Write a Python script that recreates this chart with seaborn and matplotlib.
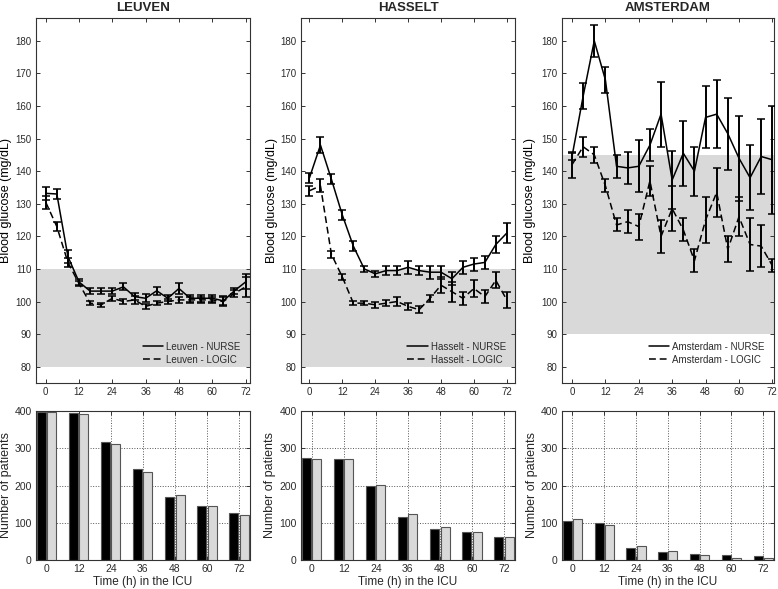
import numpy as np
import pandas as pd
import matplotlib
matplotlib.use("Agg")
import matplotlib.pyplot as plt
import seaborn as sns

# ---------------- data ----------------
site_titles = ["LEUVEN", "HASSELT", "AMSTERDAM"]
site_names = ["Leuven", "Hasselt", "Amsterdam"]
hours = [0, 4, 8, 12, 16, 20, 24, 28, 32, 36, 40, 44, 48, 52, 56, 60, 64, 68, 72]

leuven_nurse = [133.2, 133, 113.8, 106, 103.2, 103.2, 103.2, 104.5, 101.5, 101, 103.3, 101, 104, 101, 101, 101, 100.2, 103.3, 106]
leuven_nurse_err = [2, 1.5, 2, 1, 0.8, 0.8, 0.8, 1.1, 1.1, 1.2, 1.2, 0.9, 1.7, 1.1, 1.1, 1, 1.4, 1, 2.3]
leuven_logic = [130.5, 123, 112, 105.5, 99.5, 99, 101, 100, 100.5, 98.5, 99.5, 100, 100.5, 100.5, 100.5, 100.5, 100, 102.5, 104.5]
leuven_logic_err = [2, 1.5, 1.5, 0.8, 0.7, 0.7, 0.7, 0.8, 1.2, 0.8, 0.7, 0.7, 0.8, 1, 1, 1, 1.3, 1, 3]

hasselt_nurse = [138, 148, 137.5, 126.5, 117, 110, 108.5, 109.5, 109.5, 110.5, 109.5, 109, 109, 107, 110.5, 111.5, 112, 117.5, 121]
hasselt_nurse_err = [1.5, 2.5, 1.5, 1.5, 1.5, 1, 1, 1.5, 1.5, 2, 1.5, 2, 2, 2, 2, 2, 2, 2.5, 3]
hasselt_logic = [134, 135.5, 114.5, 107.5, 99.5, 99.5, 99, 99.5, 100, 98.5, 97.5, 101, 105, 103, 101, 104, 101.5, 106.5, 100.5]
hasselt_logic_err = [1.5, 2, 1, 1, 0.7, 0.7, 1, 1, 1.5, 1, 1, 1, 2.5, 3, 2, 2.5, 2, 2.5, 2.5]

amsterdam_nurse = [144.5, 163, 180, 168, 141.5, 141, 141.5, 148, 157.5, 137.3, 145.5, 140, 156.5, 157.5, 151.5, 144, 138, 144.5, 143.5]
amsterdam_nurse_err = [1, 4, 5, 4, 3.5, 5, 8, 5, 10, 9, 10, 7.5, 9.5, 10.5, 11, 13, 10, 11.5, 16.5]
amsterdam_logic = [142, 147.5, 145, 135.5, 123.5, 124.5, 123, 137, 120, 128.5, 122, 112.5, 125, 133.5, 116, 126, 117.5, 117, 111]
amsterdam_logic_err = [4, 3, 2.5, 2, 2, 3.5, 4, 4.5, 5, 7, 3.5, 3.5, 7, 7.5, 4, 6, 8, 6.5, 2]

target_low = [80, 80, 90]
target_high = [110, 110, 145]

bar_hours = ["0", "12", "24", "36", "48", "60", "72"]
leuven_n_nurse = [398, 395, 318, 245, 170, 145, 125]
leuven_n_logic = [397, 393, 311, 235, 175, 145, 121]
hasselt_n_nurse = [275, 272, 200, 116, 84, 76, 61]
hasselt_n_logic = [272, 270, 202, 124, 88, 75, 63]
amsterdam_n_nurse = [104, 99, 32, 21, 15, 13, 10]
amsterdam_n_logic = [109, 93, 38, 23, 13, 6, 6]

glucose = [
    (leuven_nurse, leuven_nurse_err, leuven_logic, leuven_logic_err),
    (hasselt_nurse, hasselt_nurse_err, hasselt_logic, hasselt_logic_err),
    (amsterdam_nurse, amsterdam_nurse_err, amsterdam_logic, amsterdam_logic_err),
]
counts = [
    (leuven_n_nurse, leuven_n_logic),
    (hasselt_n_nurse, hasselt_n_logic),
    (amsterdam_n_nurse, amsterdam_n_logic),
]
top_xlims = [(-3.5, 73.6), (-3.1, 75.0), (-3.6, 72.6)]
top_ylabel_x = [-0.112, -0.107, -0.122]
bot_ylabel_x = [-0.112, -0.118, -0.113]

# ---------------- style ----------------
sns.set_style("ticks")
plt.rcParams['font.family'] = ['Liberation Sans', 'DejaVu Sans']
TXT = "#2b2b2b"

fig = plt.figure(figsize=(7.78, 5.89), dpi=100)

lefts = [36 / 778, 301 / 778, 562 / 778]
widths = [214 / 778, 214 / 778, 212 / 778]
top_b, top_h = 1 - 383 / 589, 365 / 589
bot_b, bot_h = 1 - 560 / 589, 149 / 589

for i in range(3):
    name = site_names[i]
    nurse, nurse_err, logic, logic_err = glucose[i]

    # ---- top panel: blood glucose ----
    ax = fig.add_axes([lefts[i], top_b, widths[i], top_h])
    ax.axhspan(target_low[i], target_high[i], color="#d9d9d9", lw=0, zorder=0)

    df = pd.DataFrame({
        "hour": hours * 2,
        "glucose": nurse + logic,
        "protocol": [f"{name} - NURSE"] * len(hours) + [f"{name} - LOGIC"] * len(hours),
    })
    sns.lineplot(data=df, x="hour", y="glucose", style="protocol",
                 dashes={f"{name} - NURSE": "", f"{name} - LOGIC": (4.5, 2.5)},
                 color="black", linewidth=1.1, ax=ax, zorder=3)
    ax.errorbar(hours, nurse, yerr=nurse_err, fmt="none", ecolor="black",
                elinewidth=1.4, capsize=3.0, capthick=1.1, zorder=4)
    ax.errorbar(hours, logic, yerr=logic_err, fmt="none", ecolor="black",
                elinewidth=1.4, capsize=3.0, capthick=1.1, zorder=4)

    ax.set_xlim(*top_xlims[i])
    ax.set_ylim(75, 187)
    ax.set_xticks([0, 12, 24, 36, 48, 60, 72])
    ax.set_yticks(np.arange(80, 181, 10))
    ax.set_xlabel("")
    ax.set_ylabel("Blood glucose (mg/dL)", fontsize=9, color="black")
    ax.yaxis.set_label_coords(top_ylabel_x[i], 0.5)
    ax.tick_params(direction="in", top=True, right=True, length=3, width=0.7,
                   labelsize=7, labelcolor=TXT, color="#333333", pad=3)
    for sp in ax.spines.values():
        sp.set_color("#333333")
        sp.set_linewidth(0.8)
    ax.set_title(site_titles[i], fontsize=9.5, fontweight="bold", pad=5)
    ax.legend(loc="lower right", frameon=False, fontsize=7, handlelength=2.1,
              handletextpad=0.3, labelspacing=0.3, borderaxespad=0.0,
              labelcolor=TXT, bbox_to_anchor=(0.975, 0.04))

    # ---- bottom panel: number of patients ----
    axb = fig.add_axes([lefts[i], bot_b, widths[i], bot_h])
    n_nurse, n_logic = counts[i]
    dfb = pd.DataFrame({
        "hour": bar_hours * 2,
        "count": n_nurse + n_logic,
        "protocol": ["NURSE"] * len(bar_hours) + ["LOGIC"] * len(bar_hours),
    })
    sns.barplot(data=dfb, x="hour", y="count", hue="protocol",
                palette={"NURSE": "black", "LOGIC": "#d9d9d9"},
                edgecolor="#555555", linewidth=0.8, width=0.64, gap=0.12,
                legend=False, ax=axb, zorder=3)
    axb.set_axisbelow(True)
    axb.grid(True, linestyle=":", color="#555555", linewidth=0.7)
    axb.set_xlim(-0.33, 6.34)
    axb.set_ylim(0, 400)
    axb.set_yticks([0, 100, 200, 300, 400])
    axb.set_xlabel("Time (h) in the ICU", fontsize=8.5, labelpad=1)
    axb.set_ylabel("Number of patients", fontsize=9)
    axb.yaxis.set_label_coords(bot_ylabel_x[i], 0.5)
    axb.tick_params(direction="in", top=True, right=True, length=3, width=0.7,
                    labelsize=7.5, labelcolor=TXT, color="#333333", pad=3)
    for sp in axb.spines.values():
        sp.set_color("#333333")
        sp.set_linewidth(0.8)

fig.savefig("out.png", dpi=100)
